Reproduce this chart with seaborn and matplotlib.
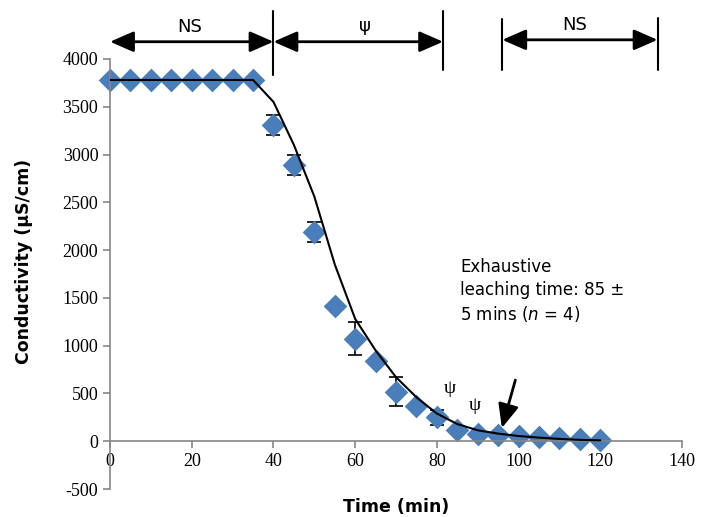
import matplotlib
matplotlib.use('Agg')
import matplotlib.pyplot as plt
import seaborn as sns
import pandas as pd

# Data
time_min = [0, 5, 10, 15, 20, 25, 30, 35, 40, 45, 50, 55, 60, 65, 70, 75,
            80, 85, 90, 95, 100, 105, 110, 115, 120]
conductivity = [3780, 3780, 3780, 3780, 3780, 3780, 3780, 3780, 3310, 2890,
                2190, 1415, 1075, 835, 520, 365, 250, 115, 80, 63, 52, 45,
                31, 20, 10]
cond_err = [0, 0, 0, 0, 0, 0, 0, 0, 105, 100, 100, 0, 175, 0, 150, 0, 75,
            0, 0, 0, 0, 0, 0, 0, 0]
fitted = [3780, 3780, 3780, 3780, 3780, 3780, 3780, 3780, 3550, 3100, 2560,
          1850, 1280, 950, 670, 460, 290, 180, 115, 80, 55, 38, 25, 15, 10]

df = pd.DataFrame({'time': time_min, 'cond': conductivity,
                   'err': cond_err, 'fit': fitted})

sns.set_style('white')
plt.rcParams['font.family'] = ['DejaVu Sans']
plt.rcParams['text.color'] = 'black'
plt.rcParams['axes.labelcolor'] = 'black'
plt.rcParams['axes.unicode_minus'] = False

fig = plt.figure(figsize=(7.01, 5.17), dpi=100)
ax = fig.add_axes([0.157, 0.054, 0.816, 0.832])

with_err = df[df['err'] > 0]
ax.errorbar(with_err['time'], with_err['cond'], yerr=with_err['err'],
            fmt='none', ecolor='black', elinewidth=1.2, capsize=5,
            capthick=1.2, zorder=1)
sns.scatterplot(data=df, x='time', y='cond', marker='D', s=145,
                color='#4A7EBB', linewidth=0, ax=ax, zorder=2,
                clip_on=False)
sns.lineplot(data=df, x='time', y='fit', color='black', lw=1.5, ax=ax,
             zorder=3)

ax.set_xlim(0, 140)
ax.set_ylim(-500, 4000)
ax.set_xticks(range(0, 141, 20))
ax.set_yticks(range(-500, 4001, 500))

for side in ['top', 'right']:
    ax.spines[side].set_visible(False)
ax.spines['bottom'].set_position(('data', 0))
for side in ['left', 'bottom']:
    ax.spines[side].set_color('#868686')
    ax.spines[side].set_linewidth(1.2)

ax.tick_params(direction='out', length=5, width=1.2, color='#868686',
               labelsize=13, labelcolor='black', left=True, bottom=True)
for lab in ax.get_xticklabels() + ax.get_yticklabels():
    lab.set_family('Liberation Serif')

ax.set_xlabel('Time (min)', fontsize=12.5, fontweight='bold')
ax.set_ylabel('Conductivity (µS/cm)', fontsize=12.5, fontweight='bold')
ax.xaxis.set_label_coords(0.5, -0.02)
ax.yaxis.set_label_coords(-0.135, 0.53)

# brackets on top
arrow_kw = dict(arrowstyle='<|-|>,head_length=0.8,head_width=0.35',
                color='black', lw=2, shrinkA=0, shrinkB=0,
                mutation_scale=18)
for x0, x1, y in [(0, 40, 4180), (40, 81.5, 4180), (96, 134, 4200)]:
    ax.annotate('', xy=(x0, y), xytext=(x1, y), arrowprops=arrow_kw,
                annotation_clip=False)
for x, y0, y1 in [(40, 3830, 4500), (81.5, 3880, 4500),
                  (96, 3880, 4420), (134, 3880, 4430)]:
    ax.plot([x, x], [y0, y1], color='black', lw=1.5, clip_on=False)

ax.text(19.5, 4330, 'NS', fontsize=13, ha='center', va='center')
ax.text(62.5, 4340, 'ψ', fontsize=13, ha='center', va='center')
ax.text(113.8, 4350, 'NS', fontsize=13, ha='center', va='center')

ax.text(85.7, 1920, 'Exhaustive\nleaching time: 85 ±\n5 mins ($\\it{n}$ = 4)',
        fontsize=12, ha='left', va='top', linespacing=1.35)
ax.text(83.2, 555, 'ψ', fontsize=14, ha='center', va='center',
        family='Liberation Serif')
ax.text(89.3, 377, 'ψ', fontsize=14, ha='center', va='center',
        family='Liberation Serif')
ax.annotate('', xy=(95.9, 140), xytext=(99.2, 640),
            arrowprops=dict(arrowstyle='-|>,head_length=0.8,head_width=0.35',
                            color='black', lw=2, shrinkA=0, shrinkB=0,
                            mutation_scale=18))

fig.savefig('out.png', dpi=100)
